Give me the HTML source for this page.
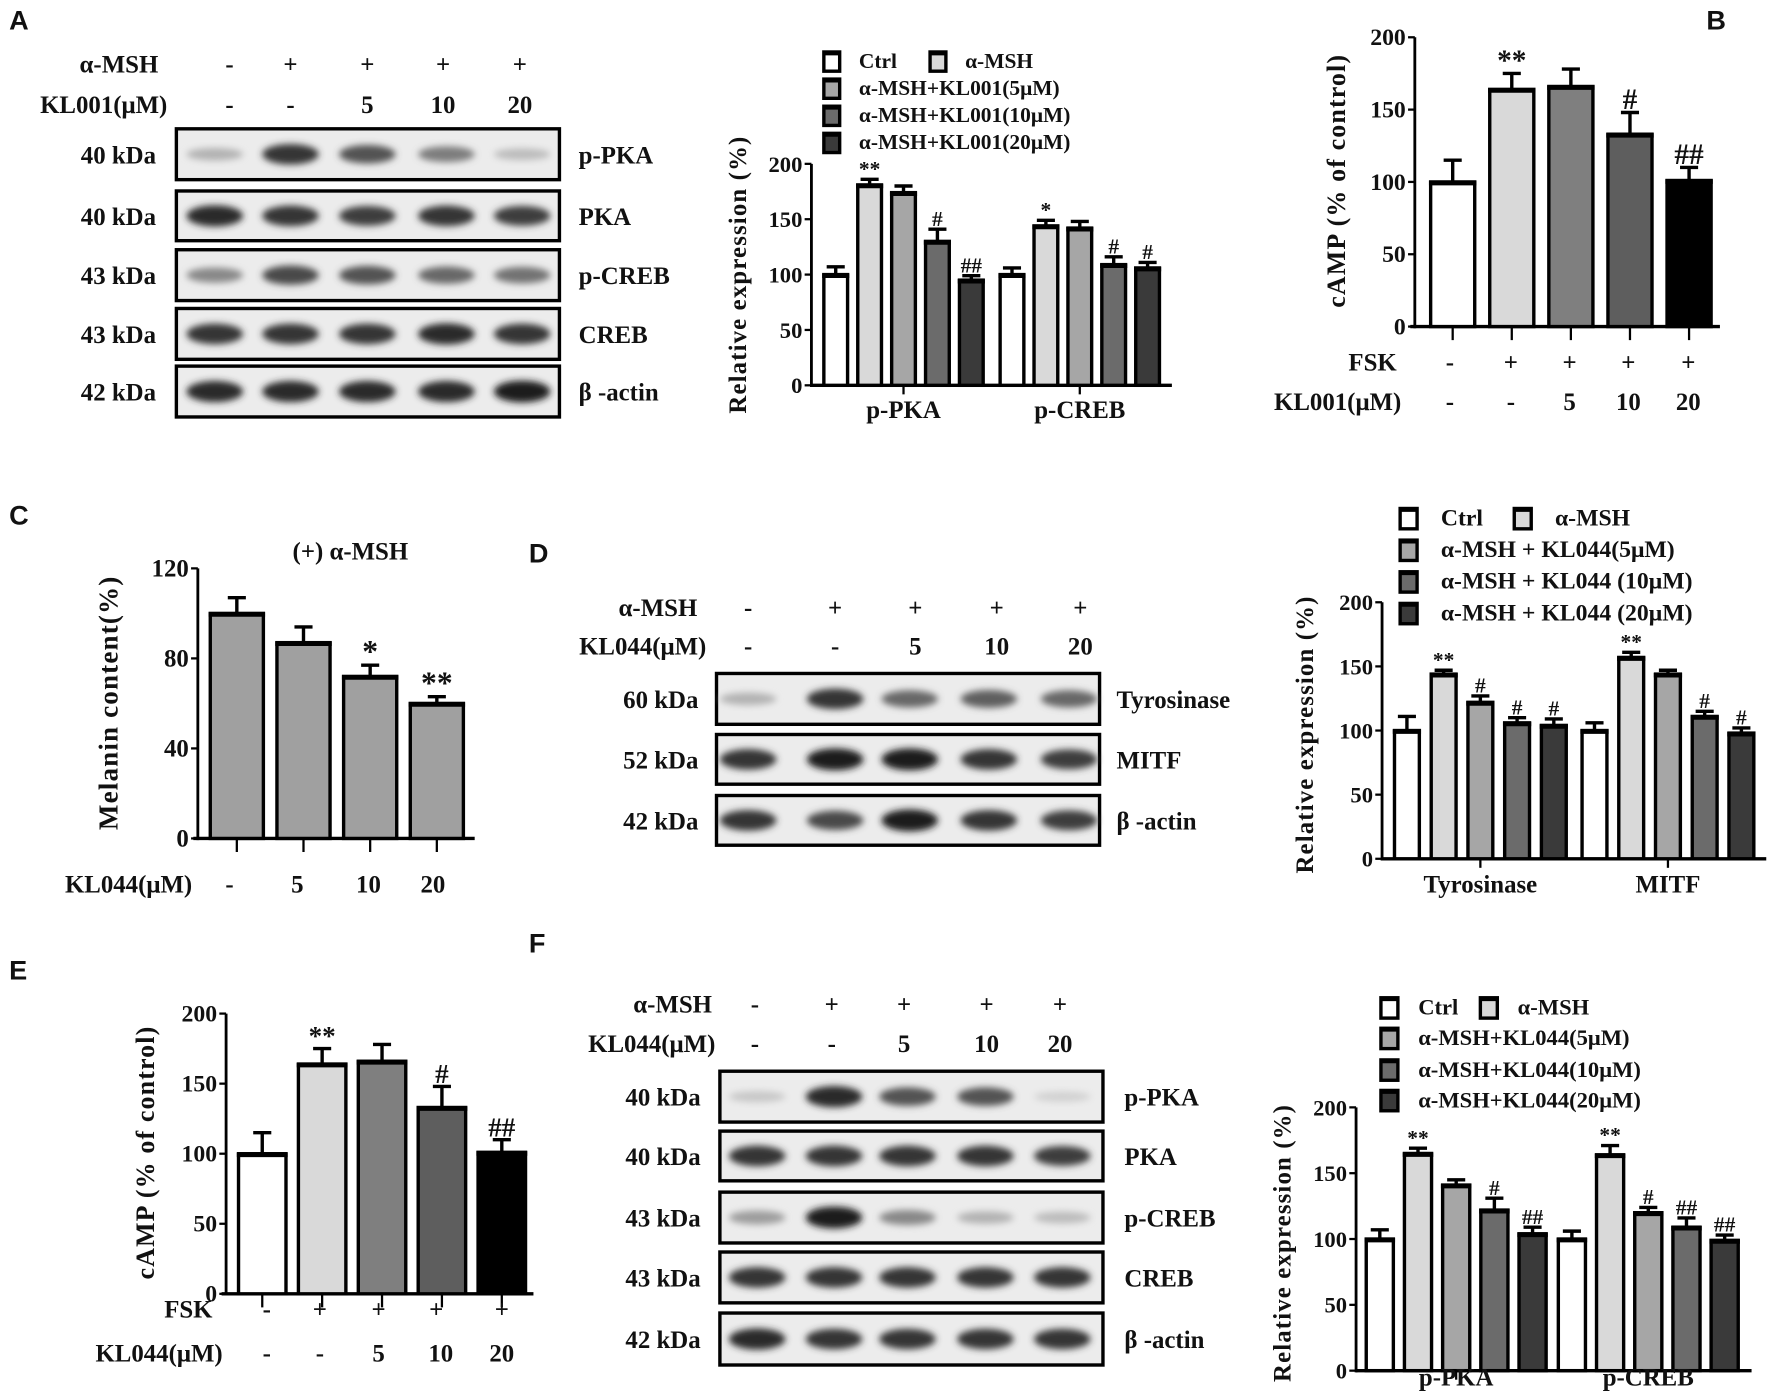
<!DOCTYPE html>
<html><head><meta charset="utf-8">
<style>
html,body{margin:0;padding:0;background:#fff;}
svg{display:block;}
text{font-family:"Liberation Serif",serif;font-weight:bold;fill:#111;}
.pl{font-family:"Liberation Sans",sans-serif;font-size:24px;}
</style></head>
<body>
<svg id="fig" xmlns="http://www.w3.org/2000/svg" width="1772" height="1391" viewBox="0 0 1568 1231">
<defs>
<filter id="blur" x="-50%" y="-50%" width="200%" height="200%"><feGaussianBlur stdDeviation="3"/></filter>
</defs>
<g id="root"></g>
</svg>
<script>
// ---------- data ----------
const lanes = ["-", "+", "+", "+", "+"];
const dosesA = ["-", "-", "5", "10", "20"];
const groupNames = ["Ctrl", "α-MSH", "α-MSH+KL001(5μM)", "α-MSH+KL001(10μM)", "α-MSH+KL001(20μM)"];
const groupNamesD = ["Ctrl", "α-MSH", "α-MSH + KL044(5μM)", "α-MSH + KL044 (10μM)", "α-MSH + KL044 (20μM)"];
const groupNamesF = ["Ctrl", "α-MSH", "α-MSH+KL044(5μM)", "α-MSH+KL044(10μM)", "α-MSH+KL044(20μM)"];
// Panel A chart
const catsA = ["p-PKA", "p-CREB"];
const valsA = [[100, 181, 174, 130, 95], [100, 144, 142, 109, 106]];
const errsA = [[107, 186, 180, 141, 99], [106, 149, 148, 116, 111]];
const sigA = [["", "**", "", "#", "##"], ["", "*", "", "#", "#"]];
// Panel B
const valsB = [100, 164, 166, 133, 101];
const errsB = [115, 175, 178, 148, 110];
const sigB = ["", "**", "", "#", "##"];
// Panel C
const dosesC = ["-", "5", "10", "20"];
const valsC = [100, 87, 72, 60];
const errsC = [107, 94, 77, 63];
const sigC = ["", "", "*", "**"];
// Panel D
const catsD = ["Tyrosinase", "MITF"];
const valsD = [[100, 144, 122, 106, 104], [100, 157, 144, 111, 98]];
const errsD = [[111, 147, 127, 110, 109], [106, 161, 147, 115, 102]];
const sigD = [["", "**", "#", "#", "#"], ["", "**", "", "#", "#"]];
// Panel E
const valsE = [100, 164, 166, 133, 101];
const errsE = [115, 175, 178, 148, 110];
const sigE = ["", "**", "", "#", "##"];
// Panel F
const catsF = ["p-PKA", "p-CREB"];
const valsF = [[100, 165, 141, 122, 104], [100, 164, 120, 109, 99]];
const errsF = [[107, 169, 145, 131, 109], [106, 171, 124, 116, 103]];
const sigF = [["", "**", "", "#", "##"], ["", "**", "#", "##", "##"]];
// Blot band intensities (0..1)
const blotA = [[0.25, 0.85, 0.7, 0.5, 0.2], [0.9, 0.85, 0.8, 0.85, 0.8], [0.45, 0.75, 0.7, 0.6, 0.55], [0.85, 0.85, 0.85, 0.9, 0.85], [0.9, 0.9, 0.9, 0.9, 0.95]];
const blotD = [[0.25, 0.85, 0.6, 0.65, 0.6], [0.85, 0.95, 0.95, 0.85, 0.8], [0.85, 0.75, 0.95, 0.85, 0.8]];
const blotF = [[0.15, 0.9, 0.7, 0.7, 0.1], [0.85, 0.85, 0.85, 0.85, 0.8], [0.35, 0.95, 0.45, 0.25, 0.2], [0.85, 0.85, 0.85, 0.85, 0.85], [0.9, 0.85, 0.85, 0.85, 0.85]];

const C5 = ["#ffffff", "#d9d9d9", "#a6a6a6", "#6b6b6b", "#3a3a3a"];
const CB = ["#ffffff", "#d9d9d9", "#7f7f7f", "#5e5e5e", "#000000"];
const NS = "http://www.w3.org/2000/svg";
const root = document.getElementById("root");
function el(tag, attrs, parent) {
  const e = document.createElementNS(NS, tag);
  for (const k in attrs) e.setAttribute(k, attrs[k]);
  (parent || root).appendChild(e);
  return e;
}
function txt(s, x, y, size, anchor, parent, cls) {
  const t = el("text", {x: x, y: y, "font-size": size, "text-anchor": anchor || "middle"}, parent);
  if (cls) t.setAttribute("class", cls);
  t.textContent = s;
  return t;
}
function group(name) {
  const g = el("g", {});
  
  
  return g;
}
function bar(g, x, w, yv, y0, fill, name) {
  const r = el("rect", {x: x, y: yv, width: w, height: y0 - yv, fill: fill, stroke: "#000", "stroke-width": 3}, g);
  
  
  el("line", {x1: x - 1.5, x2: x + w + 1.5, y1: yv + 1, y2: yv + 1, stroke: "#000", "stroke-width": 4}, g);
}
function errbar(g, cx, yv, ye) {
  el("line", {x1: cx, x2: cx, y1: yv, y2: ye, stroke: "#000", "stroke-width": 3}, g);
  el("line", {x1: cx - 8, x2: cx + 8, y1: ye, y2: ye, stroke: "#000", "stroke-width": 3}, g);
}
function yAxis(g, x, yFn, ticks, tickFont, labelX) {
  const yt = yFn(ticks[ticks.length - 1]), yb = yFn(ticks[0]);
  el("line", {x1: x, x2: x, y1: yt, y2: yb + 1.5, stroke: "#000", "stroke-width": 2.5}, g);
  ticks.forEach(v => {
    el("line", {x1: x - 6, x2: x, y1: yFn(v), y2: yFn(v), stroke: "#000", "stroke-width": 2}, g);
    const t = txt(String(v), labelX, yFn(v) + 7, tickFont, "end", g);
    
    
  });
}
function yTitle(g, s, cx, cy, size) {
  const t = el("text", {x: 0, y: 0, "font-size": size, "text-anchor": "middle", transform: "translate(" + cx + "," + cy + ") rotate(-90)", "letter-spacing": "1"}, g);
  t.textContent = s;
  
  
}
function legend(g, names, colors, x0, x1, rows, sq, tx, size) {
  const entries = [[0, x0, rows[0]], [1, x1, rows[0]], [2, x0, rows[1]], [3, x0, rows[2]], [4, x0, rows[3]]];
  entries.forEach(([i, x, y]) => {
    const r = el("rect", {x: x, y: y - sq + 3, width: sq - 3, height: sq, fill: colors[i], stroke: "#000", "stroke-width": 3}, g);
    
    
    el("line", {x1: x - 1, x2: x + sq - 2, y1: y - sq + 4, y2: y - sq + 4, stroke: "#000", "stroke-width": 4}, g);
    const t = txt(names[i], x + tx, y, size, "start", g);
    
    
  });
}
function groupedChart(name, cfg) {
  const g = group(name);
  const yFn = v => cfg.y0 - (v / 200) * (cfg.y0 - cfg.y200);
  yAxis(g, cfg.ax, yFn, [0, 50, 100, 150, 200], cfg.tf, cfg.ax - 8);
  el("line", {x1: cfg.ax, x2: cfg.axEnd, y1: cfg.y0, y2: cfg.y0, stroke: "#000", "stroke-width": 3}, g);
  cfg.cats.forEach((c, gi) => {
    const gx = cfg.gStart[gi];
    for (let i = 0; i < 5; i++) {
      const x = gx + i * cfg.step;
      const yv = yFn(cfg.vals[gi][i]);
      const ye = yFn(cfg.errs[gi][i]);
      errbar(g, x + cfg.bw / 2, yv, ye);
      bar(g, x, cfg.bw, yv, cfg.y0, C5[i], "bar-" + c.toLowerCase() + "-" + i);
      if (cfg.sig[gi][i]) {
        const s = txt(cfg.sig[gi][i], x + cfg.bw / 2, ye - 3, cfg.sigF, "middle", g);
        
        
      }
    }
    const mid = gx + 2 * cfg.step + cfg.bw / 2;
    el("line", {x1: mid, x2: mid, y1: cfg.y0, y2: cfg.y0 + 8, stroke: "#000", "stroke-width": 2}, g);
    const t = txt(c, mid, cfg.catY, cfg.cf, "middle", g);
    
    
  });
  yTitle(g, "Relative expression (%)", cfg.titX, cfg.titY, cfg.titF);
  legend(g, cfg.names, C5, cfg.lx0, cfg.lx1, cfg.lrows, cfg.lsq, cfg.ltx, cfg.lf);
}
function simpleChart(name, cfg) {
  const g = group(name);
  const yFn = v => cfg.y0 - (v / cfg.max) * (cfg.y0 - cfg.ytop);
  yAxis(g, cfg.ax, yFn, cfg.ticks, cfg.tf, cfg.ax - 8);
  el("line", {x1: cfg.ax - 4, x2: cfg.axEnd, y1: cfg.y0, y2: cfg.y0, stroke: "#000", "stroke-width": 3}, g);
  cfg.vals.forEach((v, i) => {
    const x = cfg.x0 + i * cfg.step;
    const yv = yFn(v), ye = yFn(cfg.errs[i]);
    errbar(g, x + cfg.bw / 2, yv, ye);
    bar(g, x, cfg.bw, yv, cfg.y0, cfg.colors[i], "bar-" + i);
    el("line", {x1: x + cfg.bw / 2, x2: x + cfg.bw / 2, y1: cfg.y0, y2: cfg.y0 + 12, stroke: "#000", "stroke-width": 2}, g);
    if (cfg.sig[i]) {
      const s = txt(cfg.sig[i], x + cfg.bw / 2, ye - 3, cfg.sigF, "middle", g);
      
      
    }
  });
  yTitle(g, cfg.title, cfg.titX, cfg.titY, cfg.titF);
}
function condRow(name, label, vals, labelX, xs, y, size) {
  const g = group(name);
  txt(label, labelX, y, size, "end", g);
  vals.forEach((v, i) => txt(v, xs[i], y, size, "middle", g));
}
function blot(name, x0, x1, rows, kdas, prots, intens, lanesX, kx, px, fs) {
  const g = group(name);
  rows.forEach(([ya, yb], r) => {
    const box = el("rect", {x: x0, y: ya, width: x1 - x0, height: yb - ya, fill: "#ececec", stroke: "#000", "stroke-width": 3}, g);
    
    
    const cy = (ya + yb) / 2;
    lanesX.forEach((lx, i) => {
      const d = intens[r][i];
      const c = Math.round(230 - d * 210);
      el("ellipse", {cx: lx, cy: cy, rx: 25, ry: 4 + d * 6, fill: "rgb(" + c + "," + c + "," + c + ")", filter: "url(#blur)"}, g);
    });
    txt(kdas[r], kx, cy + 8, fs, "end", g);
    txt(prots[r], px, cy + 8, fs, "start", g);
  });
}

// ---------- Panel A ----------
txt("A", 8, 26, 24, "start", null, "pl");
condRow("a-msh-row-a", "α-MSH", lanes, 140, [203, 257, 325, 392, 460], 64, 22);
condRow("kl001-row-a", "KL001(μM)", dosesA, 148, [203, 257, 325, 392, 460], 100, 22);
blot("blots-a", 156, 495, [[114, 159], [169, 213], [221, 266], [273, 318], [324, 369]],
  ["40 kDa", "40 kDa", "43 kDa", "43 kDa", "42 kDa"], ["p-PKA", "PKA", "p-CREB", "CREB", "β -actin"],
  blotA, [190, 257, 325, 395, 462], 138, 512, 22);
groupedChart("chart-a", {ax: 718, axEnd: 1037, y0: 341, y200: 145, tf: 20, cats: catsA, vals: valsA, errs: errsA, sig: sigA,
  gStart: [729, 885], step: 30, bw: 21, sigF: 19, catY: 370, cf: 22, titX: 660, titY: 243, titF: 22,
  names: groupNames, lx0: 729, lx1: 823, lrows: [60, 84, 108, 132], lsq: 17, ltx: 31, lf: 19});

// ---------- Panel B ----------
txt("B", 1510, 26, 24, "start", null, "pl");
simpleChart("chart-b", {ax: 1252, axEnd: 1522, y0: 289, ytop: 33, max: 200, ticks: [0, 50, 100, 150, 200], tf: 21,
  vals: valsB, errs: errsB, sig: sigB, x0: 1266, step: 52.3, bw: 39, colors: CB, sigF: 26, title: "cAMP (% of control)",
  titX: 1190, titY: 160, titF: 23});
condRow("fsk-row-b", "FSK", lanes, 1236, [1283, 1337, 1389, 1441, 1494], 328, 22);
condRow("kl001-row-b", "KL001(μM)", dosesA, 1240, [1283, 1337, 1389, 1441, 1494], 363, 22);

// ---------- Panel C ----------
txt("C", 8, 464, 24, "start", null, "pl");
txt("(+) α-MSH", 310, 495, 22, "middle");
simpleChart("chart-c", {ax: 175, axEnd: 420, y0: 742, ytop: 503, max: 120, ticks: [0, 40, 80, 120], tf: 22,
  vals: valsC, errs: errsC, sig: sigC, x0: 186, step: 59, bw: 47, colors: ["#a0a0a0", "#a0a0a0", "#a0a0a0", "#a0a0a0"], sigF: 28,
  title: "Melanin content(%)", titX: 104, titY: 622, titF: 24});
condRow("kl044-row-c", "KL044(μM)", dosesC, 170, [203, 263, 326, 383], 790, 22);

// ---------- Panel D ----------
txt("D", 468, 498, 24, "start", null, "pl");
condRow("a-msh-row-d", "α-MSH", lanes, 617, [662, 739, 810, 882, 956], 545, 22);
condRow("kl044-row-d", "KL044(μM)", dosesA, 625, [662, 739, 810, 882, 956], 579, 22);
blot("blots-d", 634, 973, [[596, 641], [650, 694], [704, 748]], ["60 kDa", "52 kDa", "42 kDa"], ["Tyrosinase", "MITF", "β -actin"],
  blotD, [662, 739, 805, 875, 946], 618, 988, 22);
groupedChart("chart-d", {ax: 1223, axEnd: 1563, y0: 760, y200: 533, tf: 20, cats: catsD, vals: valsD, errs: errsD, sig: sigD,
  gStart: [1234, 1400], step: 32.5, bw: 22, sigF: 19, catY: 790, cf: 22, titX: 1162, titY: 650, titF: 22,
  names: groupNamesD, lx0: 1239, lx1: 1340, lrows: [465, 493, 521, 549], lsq: 18, ltx: 36, lf: 21});

// ---------- Panel E ----------
txt("E", 8, 867, 24, "start", null, "pl");
simpleChart("chart-e", {ax: 200, axEnd: 472, y0: 1145, ytop: 897, max: 200, ticks: [0, 50, 100, 150, 200], tf: 21,
  vals: valsE, errs: errsE, sig: sigE, x0: 211, step: 53, bw: 42, colors: CB, sigF: 24, title: "cAMP (% of control)",
  titX: 136, titY: 1020, titF: 23});
condRow("fsk-row-e", "FSK", lanes, 188, [236, 283, 335, 386, 444], 1166, 22);
condRow("kl044-row-e", "KL044(μM)", dosesA, 197, [236, 283, 335, 390, 444], 1205, 22);

// ---------- Panel F ----------
txt("F", 468, 843, 24, "start", null, "pl");
condRow("a-msh-row-f", "α-MSH", lanes, 630, [668, 736, 800, 873, 938], 896, 22);
condRow("kl044-row-f", "KL044(μM)", dosesA, 633, [668, 736, 800, 873, 938], 931, 22);
blot("blots-f", 637, 976, [[948, 993], [1001, 1045], [1055, 1100], [1108, 1153], [1162, 1208]],
  ["40 kDa", "40 kDa", "43 kDa", "43 kDa", "42 kDa"], ["p-PKA", "PKA", "p-CREB", "CREB", "β -actin"],
  blotF, [670, 738, 803, 872, 940], 620, 995, 22);
groupedChart("chart-f", {ax: 1200, axEnd: 1550, y0: 1213, y200: 980, tf: 20, cats: catsF, vals: valsF, errs: errsF, sig: sigF,
  gStart: [1209, 1379], step: 33.8, bw: 24, sigF: 19, catY: 1226, cf: 22, titX: 1142, titY: 1100, titF: 22,
  names: groupNamesF, lx0: 1222, lx1: 1310, lrows: [898, 925, 953, 980], lsq: 18, ltx: 33, lf: 20});
</script>
</body></html>
